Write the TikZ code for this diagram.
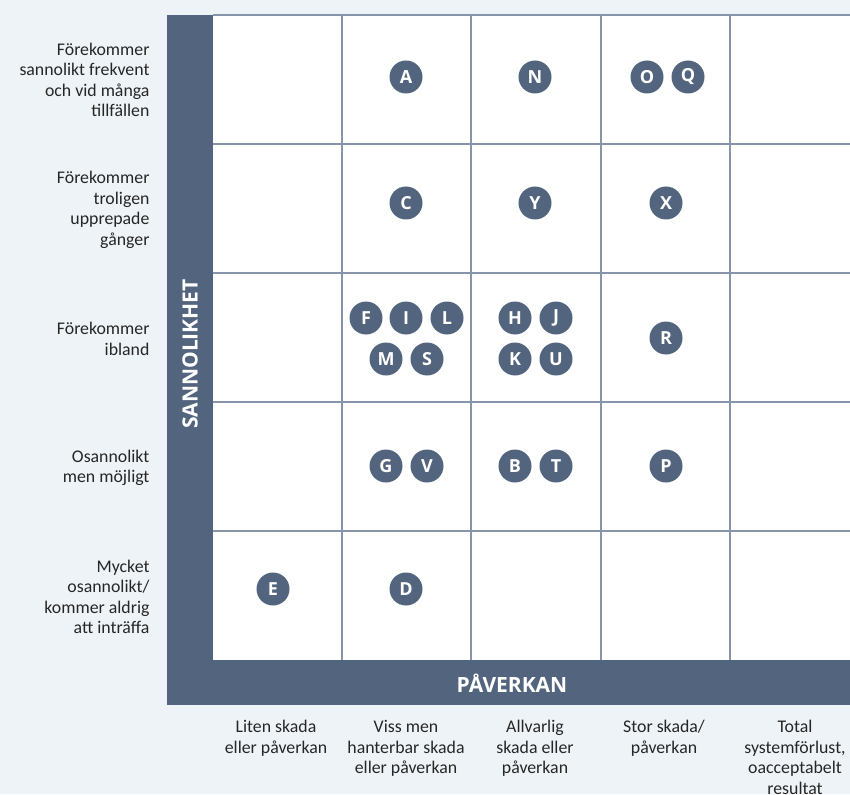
\documentclass[tikz,border=0pt]{standalone}
\usepackage{fontspec}
\setmainfont{Carlito}
\newfontfamily\boldfam{Open Sans}
\definecolor{bgc}{HTML}{EEF3F7}
\definecolor{barc}{HTML}{53657E}
\definecolor{gridc}{HTML}{8695AA}
\tikzset{
  dot/.style={circle, fill=barc, minimum size=33pt, inner sep=0pt, text=white, font=\boldfam\bfseries\fontsize{18}{18}\selectfont},
  rowlab/.style={align=right, anchor=east, font=\fontsize{17.8}{20.5}\selectfont, text=black!85},
  collab/.style={align=center, anchor=north, font=\fontsize{17.8}{20.5}\selectfont, text=black!85},
  axlab/.style={text=white, font=\boldfam\bfseries\fontsize{21}{21}\selectfont}
}
\begin{document}
\begin{tikzpicture}[x=1pt,y=-1pt]
\fill[bgc] (0,0) rectangle (850,794);
\useasboundingbox (0,0) rectangle (850,794);
% bars
\fill[barc] (167,15) rectangle (213,705);
\fill[barc] (167,660) rectangle (850,705);
% grid
\fill[white] (213,15) rectangle (850,660);
\foreach \x in {342,471,601,730} \draw[gridc, line width=1.3pt] (\x,15) -- (\x,660);
\foreach \y in {144,273,402,531} \draw[gridc, line width=1.3pt] (213,\y) -- (850,\y);
\draw[gridc, line width=1.3pt] (213,15) -- (850,15);
% axis labels
\node[axlab, rotate=90] (sann) at (190,354) {SANNOLIKHET};
\node[axlab] (paverkan) at (512,683) {PÅVERKAN};
% row labels
\node[rowlab] (r1) at (153,80) {Förekommer\\sannolikt frekvent\\och vid många\\tillfällen};
\node[rowlab] (r2) at (153,210) {Förekommer\\troligen\\upprepade\\gånger};
\node[rowlab] (r3) at (153,339) {Förekommer\\ibland};
\node[rowlab] (r4) at (153,468) {Osannolikt\\men möjligt};
\node[rowlab] (r5) at (153,597) {Mycket\\osannolikt/\\kommer aldrig\\att inträffa};
% column labels
\node[collab] (c1) at (276,717) {Liten skada\\eller påverkan};
\node[collab] (c2) at (406,717) {Viss men\\hanterbar skada\\eller påverkan};
\node[collab] (c3) at (535,717) {Allvarlig\\skada eller\\påverkan};
\node[collab] (c4) at (664,717) {Stor skada/\\påverkan};
\node[collab] (c5) at (795,717) {Total\\systemförlust,\\oacceptabelt\\resultat};
% dots
\node[dot] (A) at (406,77) {A};
\node[dot] (N) at (535,77) {N};
\node[dot] (O) at (647,77) {O};
\node[dot] (Q) at (688,77) {Q};
\node[dot] (C) at (406,203) {C};
\node[dot] (Y) at (535,203) {Y};
\node[dot] (X) at (666,203) {X};
\node[dot] (F) at (366,318) {F};
\node[dot] (I) at (406,318) {I};
\node[dot] (L) at (447,318) {L};
\node[dot] (M) at (386,359) {M};
\node[dot] (S) at (427,359) {S};
\node[dot] (H) at (515,318) {H};
\node[dot] (J) at (556,318) {J};
\node[dot] (K) at (515,359) {K};
\node[dot] (U) at (556,359) {U};
\node[dot] (R) at (666,338) {R};
\node[dot] (G) at (386,466) {G};
\node[dot] (V) at (427,466) {V};
\node[dot] (B) at (515,466) {B};
\node[dot] (T) at (556,466) {T};
\node[dot] (P) at (666,466) {P};
\node[dot] (E) at (273,589) {E};
\node[dot] (D) at (406,589) {D};
\end{tikzpicture}
\end{document}
